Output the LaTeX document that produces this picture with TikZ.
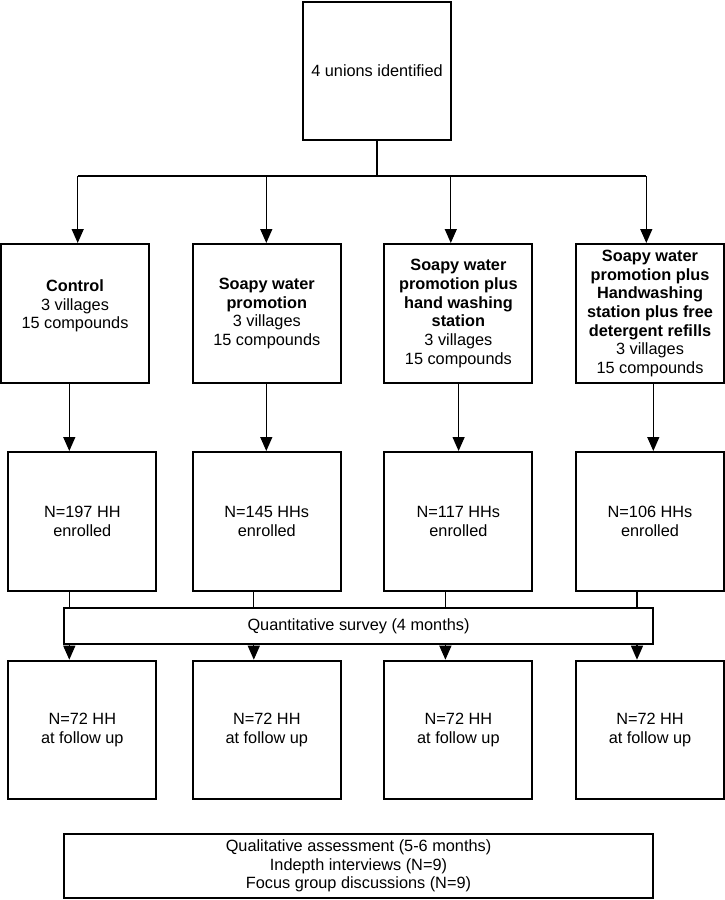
\documentclass[tikz,border=0pt]{standalone}
\usepackage{fontspec}
\setmainfont{Liberation Sans}
\usetikzlibrary{arrows.meta}

\begin{document}
\begin{tikzpicture}[x=1pt,y=1pt]
\tikzstyle{every node}+=[inner sep=0pt,align=center,font=\fontsize{16.3}{18.7}\selectfont]
\tikzstyle{box}=[draw=black,line width=2pt,fill=white,minimum width=148pt]
\tikzstyle{wide}=[box,minimum width=589.5pt]
\tikzstyle{link}=[black,line width=1.3pt]
\tikzstyle{arr}=[link,-{Triangle[length=14pt,width=12pt]}]
\useasboundingbox (0,0) rectangle (725,-900);
\node[box,minimum height=138pt] (unions) at (377,-71) {4 unions identified};
\node[box,minimum height=139pt] (arm1) at (75,-313.5) {\textbf{Control}\\3 villages\\15 compounds\\\mbox{}};
\node[box,minimum height=139pt] (arm2) at (266.8,-313.5) {\textbf{Soapy water}\\\textbf{promotion}\\3 villages\\15 compounds};
\node[box,minimum height=139pt] (arm3) at (458.4,-313.5) {\textbf{Soapy water}\\\textbf{promotion plus}\\\textbf{hand washing}\\\textbf{station}\\3 villages\\15 compounds};
\node[box,minimum height=139pt] (arm4) at (650,-313.5) {\textbf{Soapy water}\\\textbf{promotion plus}\\\textbf{Handwashing}\\\textbf{station plus free}\\\textbf{detergent refills}\\3 villages\\15 compounds};
\node[box,minimum height=139pt] (enr1) at (82.3,-521.5) {N=197 HH\\enrolled};
\node[box,minimum height=139pt] (enr2) at (266.8,-521.5) {N=145 HHs\\enrolled};
\node[box,minimum height=139pt] (enr3) at (458.4,-521.5) {N=117 HHs\\enrolled};
\node[box,minimum height=139pt] (enr4) at (650,-521.5) {N=106 HHs\\enrolled};
\node[box,minimum height=138.6pt] (fol1) at (82.3,-730) {N=72 HH\\at follow up};
\node[box,minimum height=138.6pt] (fol2) at (266.8,-730) {N=72 HH\\at follow up};
\node[box,minimum height=138.6pt] (fol3) at (458.4,-730) {N=72 HH\\at follow up};
\node[box,minimum height=138.6pt] (fol4) at (650,-730) {N=72 HH\\at follow up};
\coordinate (split) at ([yshift=-35pt]unions.south);
\draw[link] (unions.south) -- (split);
\foreach \i/\dx in {1/2.7,2/-0.5,3/-7.6,4/-3.7}
  \coordinate (in\i) at ([xshift=\dx pt]arm\i.north);
\draw[link] (split -| in1) -- (split -| in4);
\foreach \i in {1,...,4}
  \draw[arr] (split -| in\i) -- (in\i);
\foreach \i/\dx in {1/-5.7,2/-0.5,3/0.2,4/3.3}{
  \coordinate (out\i) at ([xshift=\dx pt]arm\i.south);
  \draw[arr] (out\i) -- (out\i |- enr\i.north);
}
\foreach \i in {1,...,4}
  \draw[arr] ([xshift=-13pt]enr\i.south) -- ([xshift=-13pt]fol\i.north);
\node[wide,minimum height=35.4pt] (quant) at (358.5,-626) {Quantitative survey (4 months)};
\node[wide,minimum height=64.6pt] (qual) at (358.5,-866) {Qualitative assessment (5-6 months)\\Indepth interviews (N=9)\\Focus group discussions (N=9)};
\end{tikzpicture}
\end{document}
